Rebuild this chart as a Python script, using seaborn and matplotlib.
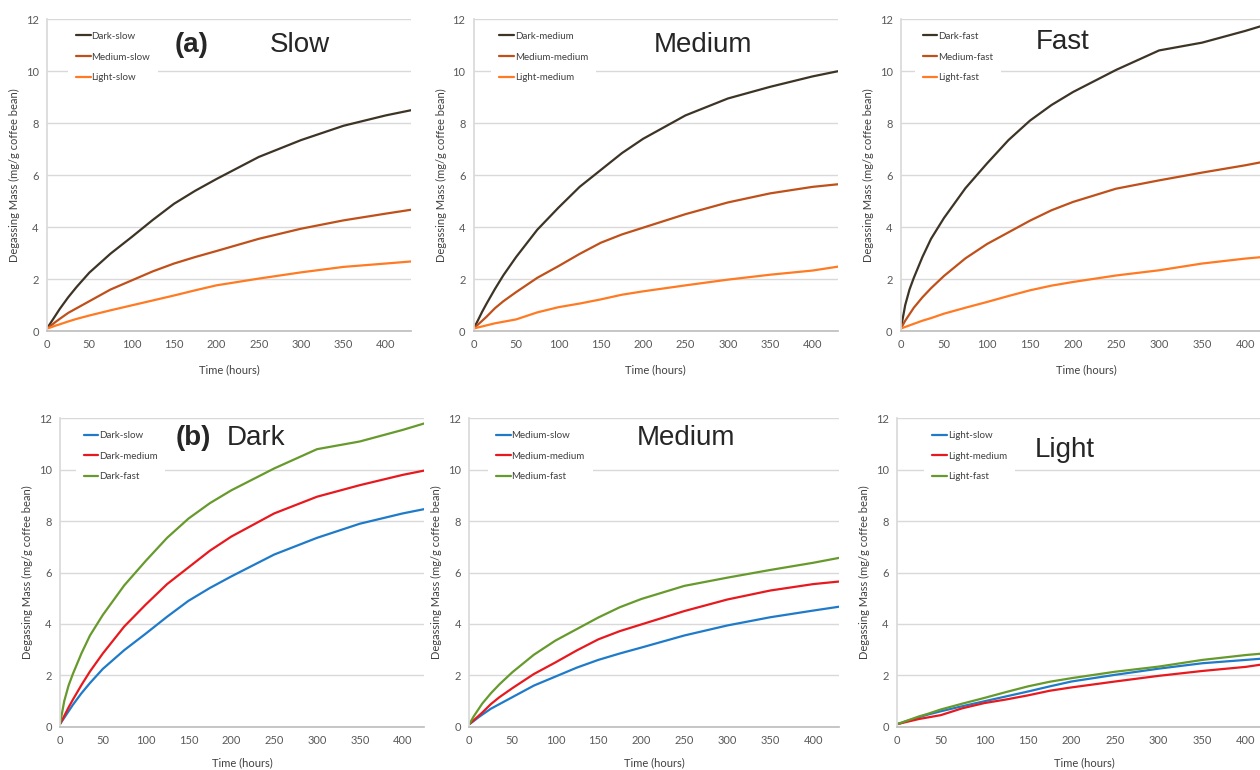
import numpy as np
import matplotlib.pyplot as plt
import seaborn as sns
import pandas as pd

# sampling times (hours)
time_h = [0, 5, 10, 15, 25, 35, 50, 75, 100, 125, 150, 175, 200, 250, 300, 350, 400, 430]

# degassing mass (mg/g coffee bean)
dark_slow = [0.1, 0.35, 0.6, 0.85, 1.3, 1.7, 2.25, 2.98, 3.62, 4.28, 4.9, 5.4, 5.85, 6.7, 7.35, 7.9, 8.3, 8.5]
medium_slow = [0.1, 0.22, 0.35, 0.47, 0.7, 0.88, 1.15, 1.6, 1.95, 2.3, 2.6, 2.85, 3.08, 3.55, 3.94, 4.26, 4.52, 4.67]
light_slow = [0.1, 0.15, 0.21, 0.26, 0.37, 0.47, 0.6, 0.8, 0.99, 1.18, 1.37, 1.57, 1.76, 2.02, 2.26, 2.47, 2.6, 2.68]

dark_medium = [0.1, 0.42, 0.75, 1.05, 1.62, 2.15, 2.85, 3.9, 4.75, 5.55, 6.2, 6.85, 7.4, 8.3, 8.95, 9.4, 9.8, 10.0]
medium_medium = [0.1, 0.25, 0.4, 0.55, 0.88, 1.15, 1.5, 2.05, 2.5, 2.97, 3.4, 3.72, 3.98, 4.5, 4.95, 5.3, 5.55, 5.65]
light_medium = [0.1, 0.14, 0.18, 0.22, 0.3, 0.36, 0.45, 0.72, 0.92, 1.06, 1.22, 1.4, 1.53, 1.76, 1.98, 2.17, 2.33, 2.48]

dark_fast = [0.1, 1.0, 1.6, 2.05, 2.85, 3.55, 4.35, 5.5, 6.45, 7.35, 8.1, 8.7, 9.2, 10.05, 10.8, 11.1, 11.55, 11.85]
medium_fast = [0.1, 0.4, 0.65, 0.9, 1.3, 1.65, 2.12, 2.8, 3.35, 3.8, 4.25, 4.65, 4.97, 5.48, 5.8, 6.1, 6.38, 6.57]
light_fast = [0.1, 0.16, 0.22, 0.28, 0.4, 0.5, 0.67, 0.9, 1.12, 1.35, 1.57, 1.75, 1.89, 2.14, 2.34, 2.6, 2.79, 2.88]

series = {
    "Dark-slow": dark_slow, "Medium-slow": medium_slow, "Light-slow": light_slow,
    "Dark-medium": dark_medium, "Medium-medium": medium_medium, "Light-medium": light_medium,
    "Dark-fast": dark_fast, "Medium-fast": medium_fast, "Light-fast": light_fast,
}

roast_colors = ["#3d3426", "#c0501a", "#ff7a22"]
rate_colors = ["#1f7bc9", "#e8191e", "#679a2c"]

# (names, colours, axes rect, xlim, legend x offset in axes fraction)
panels = [
    (["Dark-slow", "Medium-slow", "Light-slow"], roast_colors, [0.0373, 0.570, 0.289, 0.405], 430, 0.045),
    (["Dark-medium", "Medium-medium", "Light-medium"], roast_colors, [0.376, 0.570, 0.289, 0.405], 430, 0.035),
    (["Dark-fast", "Medium-fast", "Light-fast"], roast_colors, [0.715, 0.570, 0.2937, 0.405], 430, 0.025),
    (["Dark-slow", "Dark-medium", "Dark-fast"], rate_colors, [0.0476, 0.0562, 0.289, 0.4005], 425, 0.03),
    (["Medium-slow", "Medium-medium", "Medium-fast"], rate_colors, [0.3725, 0.0562, 0.2934, 0.4005], 430, 0.038),
    (["Light-slow", "Light-medium", "Light-fast"], rate_colors, [0.712, 0.0562, 0.2976, 0.4005], 430, 0.06),
]

sns.set_theme(style="white")
plt.rcParams["font.family"] = ["Lato", "DejaVu Sans"]

fig = plt.figure(figsize=(12.6, 7.7), dpi=100)

for i, (names, colors, rect, xmax, leg_x) in enumerate(panels):
    ax = fig.add_axes(rect)
    df = pd.DataFrame({
        "time": np.tile(time_h, len(names)),
        "mass": np.concatenate([series[n] for n in names]),
        "curve": np.repeat(names, len(time_h)),
    })
    sns.lineplot(data=df, x="time", y="mass", hue="curve", hue_order=names,
                 palette=colors, linewidth=1.6, ax=ax)
    ax.set_xlim(0, xmax)
    ax.set_ylim(0, 12)
    ax.set_xticks(range(0, 401, 50))
    ax.set_yticks(range(0, 13, 2))
    ax.grid(axis="y", color="#d9d9d9", linewidth=1)
    ax.set_axisbelow(True)
    for s in ["top", "right"]:
        ax.spines[s].set_visible(False)
    ax.spines["left"].set_color("#d9d9d9")
    ax.spines["bottom"].set_color("#bfbfbf")
    ax.tick_params(length=0, labelsize=8, labelcolor="#595959", pad=6)
    ax.set_xlabel("Time (hours)", fontsize=8, color="#404040", labelpad=10 if i < 3 else 8)
    ax.set_ylabel("Degassing Mass (mg/g coffee bean)", fontsize=8, color="#404040", labelpad=4)
    leg = ax.legend(loc="upper left", bbox_to_anchor=(leg_x, 1.0), fontsize=7, frameon=True,
                    facecolor="white", edgecolor="none", framealpha=1, handlelength=1.5,
                    handletextpad=0.1, labelspacing=1.2, borderpad=0.8)
    for t in leg.get_texts():
        t.set_color("#404040")

big = dict(fontsize=20, family=["Liberation Sans", "DejaVu Sans"], va="center")
fig.text(175 / 1260, 1 - 45 / 770, "(a)", fontweight="bold", **big)
fig.text(270 / 1260, 1 - 45 / 770, "Slow", **big)
fig.text(654 / 1260, 1 - 45 / 770, "Medium", **big)
fig.text(1036 / 1260, 1 - 42 / 770, "Fast", **big)
fig.text(176 / 1260, 1 - 438 / 770, "(b)", fontweight="bold", **big)
fig.text(227 / 1260, 1 - 438 / 770, "Dark", **big)
fig.text(637 / 1260, 1 - 438 / 770, "Medium", **big)
fig.text(1035 / 1260, 1 - 450 / 770, "Light", **big)

fig.savefig("out.png", dpi=100)
